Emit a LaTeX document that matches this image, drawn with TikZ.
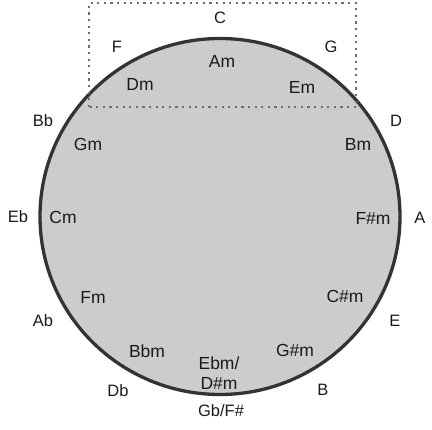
\documentclass[tikz,border=0pt]{standalone}
\usepackage{fontspec}
\setmainfont{Liberation Sans}
\definecolor{ringfill}{HTML}{CCCCCC}
\definecolor{ringline}{HTML}{333333}
\definecolor{txt}{HTML}{1A1A1A}
\definecolor{dotc}{HTML}{6E6E6E}
\begin{document}
\begin{tikzpicture}[x=1pt,y=-1pt,
  major/.style={text=txt,font=\fontsize{16.5}{19}\selectfont,inner sep=0pt},
  minor/.style={text=txt,font=\fontsize{17.5}{20.5}\selectfont,inner sep=0pt,align=center},
  ring/.style={fill=ringfill,draw=ringline,line width=3.3pt},
  dotbox/.style={draw=dotc,line width=2.4pt,dash pattern=on 2.2pt off 4.4pt}]
\useasboundingbox (0,0) rectangle (432,430);
\coordinate (ringc) at (220,216.5);
\draw[ring] (ringc) ellipse [x radius=180, y radius=178];
\draw[dotbox] (89,107) -- (89,3) -- (356,3) -- (356,107) -- cycle;
% major keys
\node[major] (kC) at (220,18) {C};
\node[major] (kG) at (331,47) {G};
\node[major] (kD) at (396,121) {D};
\node[major] (kA) at (420,218) {A};
\node[major] (kE) at (395,321) {E};
\node[major] (kB) at (323,390) {B};
\node[major] (kGb) at (221,411) {Gb/F\#};
\node[major] (kDb) at (118,391) {Db};
\node[major] (kAb) at (43,321) {Ab};
\node[major] (kEb) at (18,217) {Eb};
\node[major] (kBb) at (43,121) {Bb};
\node[major] (kF) at (117,47) {F};
% minor keys
\node[minor] (mAm) at (222,61) {Am};
\node[minor] (mEm) at (302,87) {Em};
\node[minor] (mBm) at (358,144) {Bm};
\node[minor] (mFsm) at (373,218) {F\#m};
\node[minor] (mCsm) at (345,296) {C\#m};
\node[minor] (mGsm) at (295,350) {G\#m};
\node[minor] (mEbm) at (219,373) {Ebm/\\D\#m};
\node[minor] (mBbm) at (147,351) {Bbm};
\node[minor] (mFm) at (93,297) {Fm};
\node[minor] (mCm) at (63,217) {Cm};
\node[minor] (mGm) at (88,144) {Gm};
\node[minor] (mDm) at (140,84) {Dm};
\end{tikzpicture}
\end{document}
